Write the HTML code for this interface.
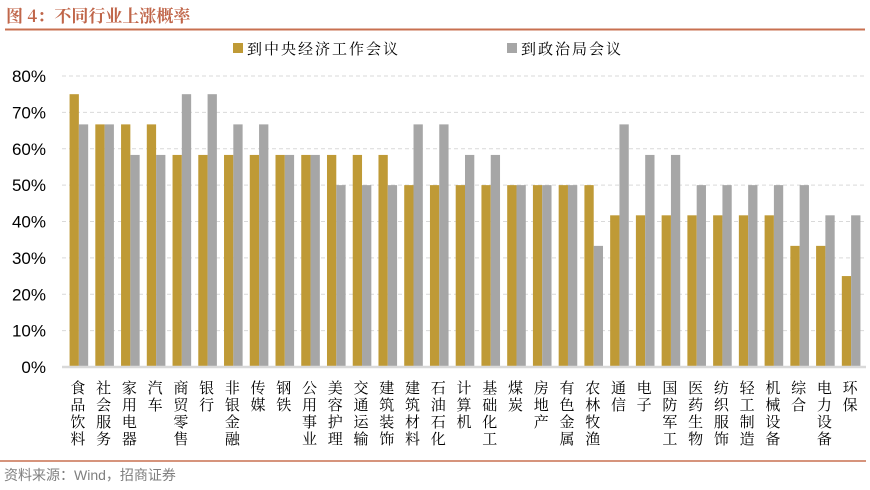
<!DOCTYPE html>
<html><head><meta charset="utf-8"><style>
body{margin:0;background:#fff;width:870px;height:490px;overflow:hidden}
svg{display:block}
.cjk{font-family:"Noto Serif CJK SC","Liberation Serif",serif}
</style></head><body>
<svg id="chart" width="870" height="490">
<text x="6" y="22" fill="#C0664A" font-size="17" font-weight="bold" class="cjk">图 4：不同行业上涨概率</text>
<line x1="5" y1="29.5" x2="865" y2="29.5" stroke="#C87050" stroke-width="2"/>
<g>
<rect x="233" y="43" width="10" height="10" fill="#BF9A36"/>
<text x="247" y="54" font-size="15" class="cjk" letter-spacing="2">到中央经济工作会议</text>
<rect x="507" y="43" width="10" height="10" fill="#A6A6A6"/>
<text x="521" y="54" font-size="15" class="cjk" letter-spacing="2">到政治局会议</text>
</g>
<g id="grid"></g><g id="bars"></g><g id="labels"></g>
<line x1="62" y1="367" x2="866" y2="367" stroke="#D9D9D9" stroke-width="2.5"/>
<line x1="0" y1="461" x2="866" y2="461" stroke="#C87050" stroke-width="1.5"/>
<text x="4" y="480" fill="#7F7F7F" font-size="14" font-family="Liberation Sans,Noto Sans CJK SC,sans-serif">资料来源：Wind，招商证券</text>
</svg>
<script>
const categories=["食品饮料","社会服务","家用电器","汽车","商贸零售","银行","非银金融","传媒","钢铁","公用事业","美容护理","交通运输","建筑装饰","建筑材料","石油石化","计算机","基础化工","煤炭","房地产","有色金属","农林牧渔","通信","电子","国防军工","医药生物","纺织服饰","轻工制造","机械设备","综合","电力设备","环保"];
const centralValues=[75,66.7,66.7,66.7,58.3,58.3,58.3,58.3,58.3,58.3,58.3,58.3,58.3,50,50,50,50,50,50,50,50,41.7,41.7,41.7,41.7,41.7,41.7,41.7,33.3,33.3,25];
const politburoValues=[66.7,66.7,58.3,58.3,75,75,66.7,66.7,58.3,58.3,50,50,50,66.7,66.7,58.3,58.3,50,50,50,33.3,66.7,58.3,58.3,50,50,50,50,50,41.7,41.7];
const yTicks=[0,10,20,30,40,50,60,70,80];
const NS="http://www.w3.org/2000/svg";
const x0=66,x1=864,yBase=367,yTop=76,yMax=80;
const bw=(x1-x0)/categories.length;
const y=v=>yBase-(v/yMax)*(yBase-yTop);
const xc=i=>x0+bw*(i+0.5);
function mk(t,a,p){const e=document.createElementNS(NS,t);for(const k in a)e.setAttribute(k,a[k]);p.appendChild(e);return e;}
const grid=document.getElementById('grid'),bars=document.getElementById('bars'),labels=document.getElementById('labels');
yTicks.forEach(v=>{
 if(v>0){const l=mk('line',{x1:62,x2:866,y1:y(v),y2:y(v),stroke:'#D9D9D9','stroke-dasharray':'4,3'},grid);
 
 }
 const t=mk('text',{x:46,y:y(v)+6,'text-anchor':'end','font-size':17,'font-family':'Liberation Sans,sans-serif'},grid);
 t.textContent=v+'%';
 
 
});
categories.forEach((c,i)=>{
 const cx=xc(i),w=9.3;
 const b1=mk('rect',{x:cx-w,y:y(centralValues[i]),width:w,height:yBase-y(centralValues[i]),fill:'#BF9A36'},bars);
 
 
 const b2=mk('rect',{x:cx,y:y(politburoValues[i]),width:w,height:yBase-y(politburoValues[i]),fill:'#A6A6A6'},bars);
 
 
 const t=mk('text',{x:cx-1,'text-anchor':'middle','font-size':15,'class':'cjk'},labels);
 
 
 [...c].forEach((ch,k)=>{const s=mk('tspan',{x:cx-1,y:393+k*17},t);s.textContent=ch;});
});
</script>
</body></html>
